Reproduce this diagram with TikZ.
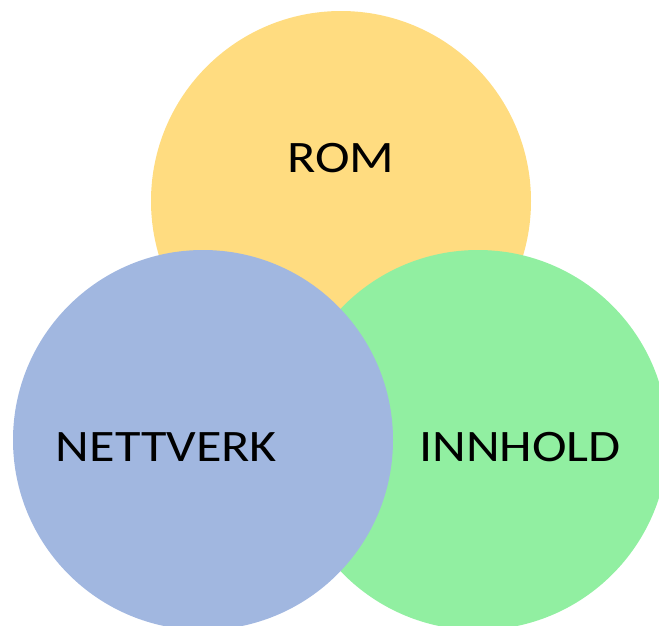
\documentclass[tikz,border=0pt]{standalone}
\usepackage{fontspec}
\setmainfont{Carlito}[FakeStretch=1.16]
\usepackage{tikz}
\usetikzlibrary{shapes.geometric, positioning}
\definecolor{myellow}{HTML}{FFDC80}
\definecolor{mblue}{HTML}{A1B7E0}
\definecolor{mgreen}{HTML}{91EFA1}
\tikzstyle{area} = [circle, minimum size = 380pt, inner sep = 0pt, draw = none]
\tikzstyle{word} = [inner sep = 0pt, text = black, font = \fontsize{45}{54}\selectfont]

\begin{document}
\begin{tikzpicture}[x=1pt, y=-1pt]
\useasboundingbox (0,0) rectangle (659,625);
%Circles
\node (rom) [area, fill = myellow] at (341,201) {};
\node (innhold) [area, fill = mgreen] at (478,440) {};
\node (nettverk) [area, fill = mblue] at (203,440) {};
%Labels
\node (romtxt) [word] at (341,158.5) {ROM};
\node (nettverktxt) [word] at (166.5,447.5) {NETTVERK};
\node (innholdtxt) [word] at (520,447.5) {INNHOLD};
\end{tikzpicture}
\end{document}
